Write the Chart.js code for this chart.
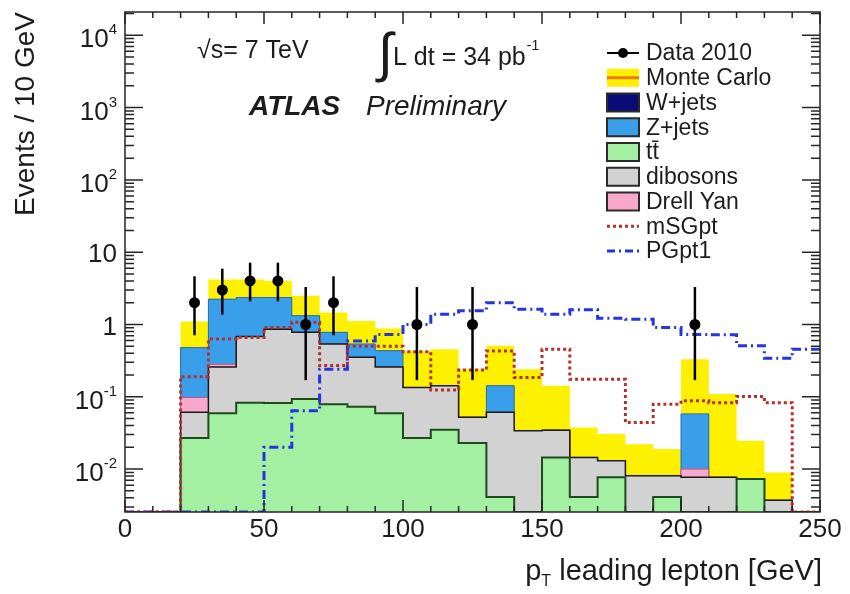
<!DOCTYPE html>
<html lang="en">
<head>
<meta charset="UTF-8">
<title>ATLAS Preliminary - pT leading lepton</title>
<script src="https://cdn.jsdelivr.net/npm/chart.js@4.4.0/dist/chart.umd.min.js"></script>
<style>
    html, body { margin: 0; padding: 0; background: #fff; }
    #ptChart { display: block; }
</style>
</head>
<body>
<canvas id="ptChart" width="850" height="594"></canvas>

<script>
    // 10 GeV bins from 0 to 250 GeV
    const binEdges = [0, 10, 20, 30, 40, 50, 60, 70, 80, 90, 100, 110, 120, 130, 140, 150, 160, 170, 180, 190, 200, 210, 220, 230, 240, 250];

    // data 2010 (only the filled bins are drawn)
    const dataCenters = [25, 35, 45, 55, 65, 75, 105, 125, 205];
    const dataCounts  = [2, 3, 4, 4, 1, 2, 1, 1, 1];
    const dataLow     = [0.71, 1.37, 2.09, 2.09, 0.17, 0.71, 0.17, 0.17, 0.17];
    const dataHigh    = [4.64, 5.92, 7.16, 7.16, 3.3, 4.64, 3.3, 3.3, 3.3];

    // background processes, events per bin (stacked bottom -> top)
    const ttbar    = [0, 0, 0.027, 0.059, 0.083, 0.082, 0.093, 0.079, 0.073, 0.059, 0.027, 0.035, 0.023, 0.0041, 0, 0.0145, 0.0041, 0.0077, 0, 0.0041, 0, 0, 0.0073, 0, 0];
    const dibosons = [0, 0, 0.034, 0.2, 0.6, 0.78, 0.69, 0.46, 0.28, 0.2, 0.107, 0.107, 0.029, 0.057, 0.034, 0.02, 0.0104, 0.0053, 0.0081, 0.004, 0.0077, 0.0077, 0, 0.0037, 0];
    const drellYan = [0, 0, 0.037, 0.023, 0, 0, 0, 0, 0, 0, 0, 0, 0, 0, 0, 0, 0, 0, 0, 0, 0.0023, 0, 0, 0, 0];
    const zJets    = [0, 0, 0.38, 1.96, 1.68, 1.5, 0.54, 0.24, 0.185, 0.175, 0, 0, 0, 0.081, 0, 0, 0, 0, 0, 0, 0.048, 0, 0, 0, 0];
    const wJets    = [0, 0, 0, 0, 0, 0, 0, 0, 0, 0, 0, 0, 0, 0, 0, 0, 0, 0, 0, 0, 0, 0, 0, 0, 0];

    // upper edge of the Monte Carlo uncertainty band
    const mcUpper  = [0, 0, 1.1, 4.2, 4.2, 4.0, 2.49, 1.47, 1.12, 0.88, 0.43, 0.456, 0.24, 0.51, 0.24, 0.142, 0.0377, 0.0305, 0.022, 0.0189, 0.33, 0.109, 0.0246, 0.009, 0];

    // signal points
    const mSGpt = [0, 0, 0.19, 0.63, 0.66, 0.91, 1.07, 0.27, 0.5, 0.5, 0.42, 0.124, 0.234, 0.43, 0.185, 0.456, 0.175, 0.175, 0.044, 0.079, 0.088, 0.083, 0.101, 0.083, 0];
    const PGpt1 = [0, 0, 0, 0, 0, 0.02, 0.064, 0.24, 0.59, 0.73, 1.0, 1.39, 1.55, 2.0, 1.63, 1.39, 1.6, 1.22, 1.18, 0.91, 0.73, 0.72, 0.51, 0.34, 0.456];

    // y tick labels
    const yLabelValues = [1e-2, 1e-1, 1, 10, 1e2, 1e3, 1e4];
    const yLabelBase   = ['10', '10', '1', '10', '10', '10', '10'];
    const yLabelExp    = ['-2', '-1', '', '', '2', '3', '4'];

    const legendLabels = ['Data 2010', 'Monte Carlo', 'W+jets', 'Z+jets', 'tt\u0304', 'dibosons', 'Drell Yan', 'mSGpt', 'PGpt1'];

    const yMin = 2.55e-3;
    const yMax = 2.1e4;
    const FONT = "'Liberation Sans', Arial, Helvetica, sans-serif";

    const colors = {
        mc: '#fdf100', mcLine: '#f07800',
        w: '#0b0b78', z: '#3a9fea', tt: '#a3f0a3', di: '#d2d2d2', dy: '#f8a8ca',
        msg: '#b3302c', pg: '#2534e0'
    };

    // zero bins sit on the bottom of the log axis
    const floorVal = v => (v > 0 ? v : yMin);
    const toSteps = vals => binEdges.map((x, i) => ({ x: x, y: floorVal(vals[Math.min(i, vals.length - 1)]) }));

    // running sums for the stack
    const stackParts = [ttbar, dibosons, drellYan, zJets, wJets];
    const stackSums = [];
    stackParts.reduce((acc, part) => {
        const next = acc.map((a, i) => a + part[i]);
        stackSums.push(next);
        return next;
    }, ttbar.map(() => 0));

    function stepSet(label, vals, opts) {
        return Object.assign({
            label: label,
            data: toSteps(vals),
            stepped: 'before',
            pointRadius: 0,
            borderWidth: 0,
            fill: false
        }, opts);
    }

    const rootStyle = {
        id: 'rootStyle',
        afterDatasetsDraw(chart) {
            const { ctx, scales: { x, y } } = chart;
            ctx.save();
            ctx.strokeStyle = '#000';
            ctx.lineWidth = 2.5;
            dataCenters.forEach((c, i) => {
                const px = x.getPixelForValue(c);
                ctx.beginPath();
                ctx.moveTo(px, y.getPixelForValue(dataLow[i]));
                ctx.lineTo(px, y.getPixelForValue(dataHigh[i]));
                ctx.stroke();
            });
            ctx.restore();
        },
        afterDraw(chart) {
            const { ctx, chartArea: a, scales: { x, y } } = chart;
            ctx.save();

            // frame + inward ticks on all four sides
            ctx.strokeStyle = '#262626';
            ctx.lineWidth = 1.5;
            ctx.strokeRect(a.left, a.top, a.right - a.left, a.bottom - a.top);
            ctx.beginPath();
            for (let g = 0; g <= 250; g += 10) {
                const px = x.getPixelForValue(g);
                const len = g % 50 === 0 ? 12 : 6;
                ctx.moveTo(px, a.bottom); ctx.lineTo(px, a.bottom - len);
                ctx.moveTo(px, a.top); ctx.lineTo(px, a.top + len);
            }
            for (let e = -3; e <= 4; e++) {
                for (let m = 1; m <= 9; m++) {
                    const v = m * Math.pow(10, e);
                    if (v < yMin || v > yMax) continue;
                    const py = y.getPixelForValue(v);
                    const len = m === 1 ? 18 : 9;
                    ctx.moveTo(a.left, py); ctx.lineTo(a.left + len, py);
                    ctx.moveTo(a.right, py); ctx.lineTo(a.right - len, py);
                }
            }
            ctx.stroke();

            ctx.fillStyle = '#1c1c1c';

            // y tick labels with superscripts
            yLabelValues.forEach((v, i) => {
                const py = y.getPixelForValue(v);
                const base = yLabelBase[i], exp = yLabelExp[i];
                ctx.textBaseline = 'middle';
                ctx.textAlign = 'left';
                ctx.font = '26px ' + FONT;
                const bw = ctx.measureText(base).width;
                ctx.font = '15px ' + FONT;
                const ew = exp ? ctx.measureText(exp).width : 0;
                const right = 117;
                ctx.font = '26px ' + FONT;
                ctx.fillText(base, right - ew - bw, py + (exp ? 5 : 3));
                if (exp) {
                    ctx.font = '15px ' + FONT;
                    ctx.fillText(exp, right - ew, py - 5);
                }
            });

            // y title
            ctx.save();
            ctx.font = '28px ' + FONT;
            ctx.translate(26, a.top);
            ctx.rotate(-Math.PI / 2);
            ctx.textAlign = 'right';
            ctx.textBaseline = 'middle';
            ctx.fillText('Events / 10 GeV', 0, 0);
            ctx.restore();

            // x title with subscript T
            ctx.textBaseline = 'alphabetic';
            ctx.textAlign = 'left';
            ctx.font = '29px ' + FONT;
            const wp = ctx.measureText('p').width;
            const rest = ' leading lepton [GeV]';
            const wr = ctx.measureText(rest).width;
            ctx.font = '16px ' + FONT;
            const wt = ctx.measureText('T').width;
            let tx = 822 - wp - wt - wr;
            ctx.font = '29px ' + FONT;
            ctx.fillText('p', tx, 580);
            ctx.font = '16px ' + FONT;
            ctx.fillText('T', tx + wp, 586);
            ctx.font = '29px ' + FONT;
            ctx.fillText(rest, tx + wp + wt, 580);

            // annotations
            ctx.font = '25px ' + FONT;
            ctx.fillText('\u221As= 7 TeV', 197, 58);
            ctx.font = '54px ' + FONT;
            ctx.fillText('\u222B', 378, 71);
            ctx.font = '25px ' + FONT;
            ctx.fillText('L dt = 34 pb', 393, 65);
            const wl = ctx.measureText('L dt = 34 pb').width;
            ctx.font = '14px ' + FONT;
            ctx.fillText('-1', 393 + wl + 1, 50);
            ctx.font = 'italic bold 28px ' + FONT;
            ctx.fillText('ATLAS', 249, 115);
            ctx.font = 'italic 28px ' + FONT;
            ctx.fillText('Preliminary', 366, 115);

            // legend
            const lx = 607, lw = 32, tx0 = 646;
            legendLabels.forEach((label, i) => {
                const cy = 53 + i * 24.75;
                ctx.save();
                if (i === 0) {
                    ctx.strokeStyle = '#000'; ctx.lineWidth = 2;
                    ctx.beginPath(); ctx.moveTo(lx, cy); ctx.lineTo(lx + lw, cy); ctx.stroke();
                    ctx.fillStyle = '#000';
                    ctx.beginPath(); ctx.arc(lx + lw / 2, cy, 5, 0, Math.PI * 2); ctx.fill();
                } else if (i === 1) {
                    ctx.fillStyle = colors.mc;
                    ctx.fillRect(lx, cy - 9, lw, 18);
                    ctx.strokeStyle = colors.mcLine; ctx.lineWidth = 3;
                    ctx.beginPath(); ctx.moveTo(lx, cy); ctx.lineTo(lx + lw, cy); ctx.stroke();
                } else if (i <= 6) {
                    const fills = [null, null, colors.w, colors.z, colors.tt, colors.di, colors.dy];
                    ctx.fillStyle = fills[i];
                    ctx.fillRect(lx, cy - 9, lw, 18);
                    ctx.strokeStyle = '#2a2a2a'; ctx.lineWidth = 2;
                    ctx.strokeRect(lx, cy - 9, lw, 18);
                } else {
                    ctx.strokeStyle = i === 7 ? colors.msg : colors.pg;
                    ctx.lineWidth = 3;
                    ctx.setLineDash(i === 7 ? [3, 3] : [8, 4, 2, 4]);
                    ctx.beginPath(); ctx.moveTo(lx, cy); ctx.lineTo(lx + lw, cy); ctx.stroke();
                }
                ctx.restore();
                ctx.fillStyle = '#1c1c1c';
                ctx.font = '23px ' + FONT;
                ctx.textBaseline = 'middle';
                ctx.textAlign = 'left';
                ctx.fillText(label, tx0, cy + 1);
            });

            ctx.restore();
        }
    };

    const ctx = document.getElementById('ptChart').getContext('2d');
    const ptChart = new Chart(ctx, {
        type: 'line',
        data: {
            datasets: [
                {
                    label: 'Data 2010',
                    data: dataCenters.map((c, i) => ({ x: c, y: dataCounts[i] })),
                    showLine: false,
                    pointRadius: 5.5,
                    pointBackgroundColor: '#000',
                    pointBorderColor: '#000',
                    pointBorderWidth: 0
                },
                stepSet('mSGpt', mSGpt, { borderColor: colors.msg, borderWidth: 3, borderDash: [3, 3] }),
                stepSet('PGpt1', PGpt1, { borderColor: colors.pg, borderWidth: 3, borderDash: [9, 4, 2, 4] }),
                stepSet('tt', stackSums[0], { fill: 'start', backgroundColor: colors.tt, borderColor: '#1e4a1e', borderWidth: 2 }),
                stepSet('dibosons', stackSums[1], { fill: 'start', backgroundColor: colors.di, borderColor: '#1a1a1a', borderWidth: 1.5 }),
                stepSet('Drell Yan', stackSums[2], { fill: 'start', backgroundColor: colors.dy, borderColor: '#c8507a', borderWidth: 1 }),
                stepSet('Z+jets', stackSums[3], { fill: 'start', backgroundColor: colors.z, borderColor: '#2a6fb0', borderWidth: 1 }),
                stepSet('W+jets', stackSums[4], { fill: 'start', backgroundColor: colors.w, borderWidth: 0 }),
                stepSet('Monte Carlo', mcUpper, { fill: 'start', backgroundColor: colors.mc, borderWidth: 0 })
            ]
        },
        options: {
            responsive: false,
            animation: false,
            events: [],
            layout: { padding: { top: 12, right: 30, left: 0, bottom: 0 } },
            plugins: {
                legend: { display: false },
                tooltip: { enabled: false }
            },
            scales: {
                x: {
                    type: 'linear',
                    min: 0,
                    max: 250,
                    afterFit: scale => { scale.height = 82; },
                    grid: { display: false, drawTicks: false },
                    border: { display: false },
                    ticks: {
                        stepSize: 50,
                        maxRotation: 0,
                        padding: 2,
                        color: '#1c1c1c',
                        font: { family: FONT, size: 26 }
                    }
                },
                y: {
                    type: 'logarithmic',
                    min: yMin,
                    max: yMax,
                    afterFit: scale => { scale.width = 125; },
                    grid: { display: false },
                    border: { display: false },
                    ticks: { display: false }
                }
            }
        },
        plugins: [rootStyle]
    });
</script>
</body>
</html>
